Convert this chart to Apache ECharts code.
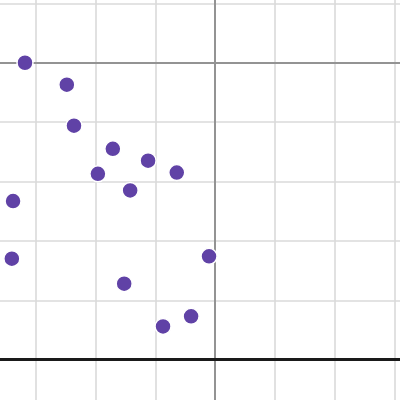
<!DOCTYPE html>
<html>
<head>
<meta charset="utf-8">
<script src="https://cdn.jsdelivr.net/npm/echarts@6/dist/echarts.min.js"></script>
<style>
    html, body { margin: 0; padding: 0; background: #fff; overflow: hidden; }
    #wrap { position: relative; width: 400px; height: 400px; overflow: hidden; }
    /* chart is larger than the window so the axis range -4..4 / -6..2 is cropped to what the picture shows */
    #main { position: absolute; left: -24px; top: -56px; width: 478px; height: 475px; }
</style>
</head>
<body>
<div id="wrap"><div id="main"></div></div>
<script>
// point values
var xValues = [-3.18, -2.48, -2.36, -1.71, -1.12, -1.96, -0.64, -1.42, -3.38, -3.40, -0.10, -1.52, -0.87, -0.40];
var yValues = [0.00, -0.37, -1.06, -1.45, -1.65, -1.87, -1.85, -2.15, -2.33, -3.30, -3.26, -3.72, -4.44, -4.27];
// horizontal line drawn at y = -5
var lineLevel = [-5];

var chart = echarts.init(document.getElementById('main'));

var points = [];
for (var i = 0; i < xValues.length; i++) {
    points.push([xValues[i], yValues[i]]);
}

var option = {
    animation: false,
    backgroundColor: '#fff',
    grid: {
        left: 0,
        right: 0,
        top: 0,
        bottom: 0,
        containLabel: false
    },
    xAxis: {
        type: 'value',
        min: -4,
        max: 4,
        interval: 1,
        axisLine: { show: true, onZero: true, lineStyle: { color: '#939393', width: 2 } },
        axisTick: { show: false },
        axisLabel: { show: false },
        splitLine: { show: true, lineStyle: { color: '#dadada', width: 1.6 } }
    },
    yAxis: {
        type: 'value',
        min: -6,
        max: 2,
        interval: 1,
        axisLine: { show: true, onZero: true, lineStyle: { color: '#939393', width: 2 } },
        axisTick: { show: false },
        axisLabel: { show: false },
        splitLine: { show: true, lineStyle: { color: '#dadada', width: 1.6 } }
    },
    series: [{
        type: 'scatter',
        data: points,
        symbolSize: 16,
        itemStyle: {
            color: '#6042a6',
            borderColor: '#fff',
            borderWidth: 1.5,
            opacity: 1
        },
        markLine: {
            silent: true,
            symbol: 'none',
            label: { show: false },
            lineStyle: { color: '#1a1a1a', width: 3, type: 'solid' },
            data: lineLevel.map(function(v) { return { yAxis: v }; })
        }
    }]
};

chart.setOption(option);
</script>
</body>
</html>
